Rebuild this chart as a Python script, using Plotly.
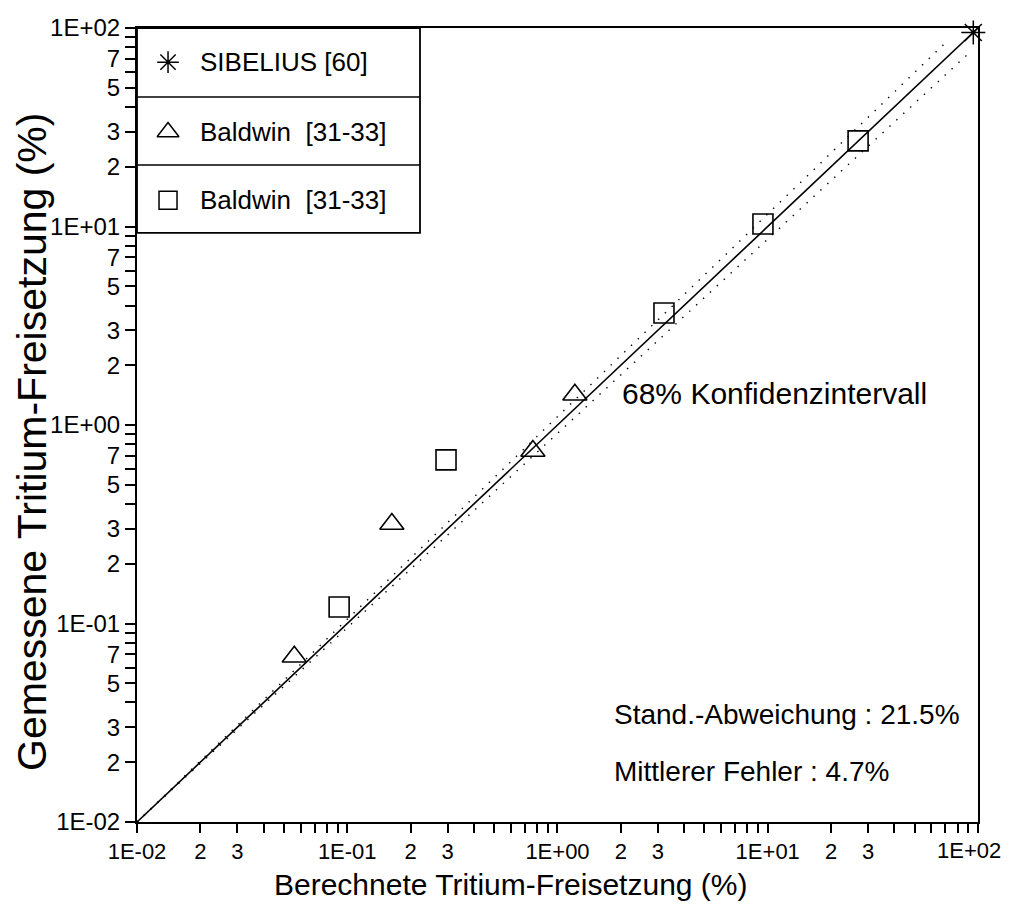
import numpy as np
import plotly.graph_objects as go

# ---- data ----
sib_x = [95.0]
sib_y = [95.0]
tri_x = [0.056, 0.163, 0.764, 1.21]
tri_y = [0.068, 0.317, 0.74, 1.42]
sq_x = [0.0915, 0.295, 3.21, 9.49, 26.9]
sq_y = [0.121, 0.667, 3.67, 10.3, 27.0]
diag_x = [0.01, 100.0]
diag_y = [0.01, 100.0]
band_up_x = [0.01, 71.0]
band_up_y = [0.01, 85.5]
band_lo_x = [0.01, 93.0]
band_lo_y = [0.01, 76.7]

legend_labels = ["SIBELIUS [60]", "Baldwin  [31-33]", "Baldwin  [31-33]"]
x_title = "Berechnete Tritium-Freisetzung (%)"
y_title = "Gemessene Tritium-Freisetzung (%)"
note_ci = "68% Konfidenzintervall"
note_sd = "Stand.-Abweichung : 21.5%"
note_mf = "Mittlerer Fehler : 4.7%"

decades = [0.01, 0.1, 1, 10, 100]
dec_labels = ["1E-02", "1E-01", "1E+00", "1E+01", "1E+02"]

FONT = "Liberation Sans, Arial, sans-serif"

def make_ticks(labeled_digits, last_label=True):
    vals, texts = [], []
    for d, lab in zip(decades, dec_labels):
        vals.append(d)
        texts.append(lab if (d != 100 or last_label) else "")
        if d == 100:
            break
        for k in range(2, 10):
            vals.append(d * k)
            texts.append(str(k) if k in labeled_digits else "")
    return vals, texts

xtv, xtt = make_ticks([2, 3], last_label=False)
ytv, ytt = make_ticks([2, 3, 5, 7])

fig = go.Figure()
black = "black"

fig.add_trace(go.Scatter(x=diag_x, y=diag_y, mode="lines",
                         line=dict(color=black, width=1.6), showlegend=False))
fig.add_trace(go.Scatter(x=band_up_x, y=band_up_y, mode="lines",
                         line=dict(color=black, width=1.4, dash="1.4px,8px"), showlegend=False))
fig.add_trace(go.Scatter(x=band_lo_x, y=band_lo_y, mode="lines",
                         line=dict(color=black, width=1.4, dash="1.4px,8px"), showlegend=False))
fig.add_trace(go.Scatter(x=tri_x, y=tri_y, mode="markers",
                         marker=dict(symbol="triangle-up-open", size=21, color=black,
                                     line=dict(width=1.6, color=black)), showlegend=False))
fig.add_trace(go.Scatter(x=sq_x, y=sq_y, mode="markers",
                         marker=dict(symbol="square-open", size=20, color=black,
                                     line=dict(width=1.6, color=black)), showlegend=False))
fig.add_trace(go.Scatter(x=sib_x, y=sib_y, mode="markers", cliponaxis=False,
                         marker=dict(symbol="asterisk-open", size=20, color=black,
                                     line=dict(width=1.5, color=black)), showlegend=False))

# legend glyphs on an overlay paper-like axis
leg_y = [0.957, 0.869, 0.783]
leg_syms = ["asterisk-open", "triangle-up-open", "square-open"]
leg_sizes = [18, 19, 18]
for yy, sym, sz in zip(leg_y, leg_syms, leg_sizes):
    fig.add_trace(go.Scatter(x=[0.0369], y=[yy], mode="markers", xaxis="x2", yaxis="y2",
                             marker=dict(symbol=sym, size=sz, color=black,
                                         line=dict(width=1.5, color=black)),
                             showlegend=False, hoverinfo="skip"))

annotations = []
for yy, lab in zip(leg_y, legend_labels):
    annotations.append(dict(x=0.0725, y=yy, xref="paper", yref="paper", text=lab,
                            showarrow=False, xanchor="left", yanchor="middle",
                            font=dict(family=FONT, size=26, color=black)))
for txt, xx, yy, fs in [(note_ci, 0.574, 0.540, 30), (note_sd, 0.565, 0.135, 28),
                        (note_mf, 0.565, 0.063, 28)]:
    annotations.append(dict(x=xx, y=yy, xref="paper", yref="paper", text=txt,
                            showarrow=False, xanchor="left", yanchor="middle",
                            font=dict(family=FONT, size=fs, color=black)))
# last x tick label, kept inside the page
annotations.append(dict(x=(1003 - 137) / 841, y=-(851 - 822) / 794, xref="paper", yref="paper",
                        text=dec_labels[-1], showarrow=False, xanchor="right", yanchor="middle",
                        font=dict(family=FONT, size=22, color=black)))
# axis titles
annotations.append(dict(x=(511 - 137) / 841, y=-(884 - 822) / 794, xref="paper", yref="paper",
                        text=x_title, showarrow=False, xanchor="center", yanchor="middle",
                        font=dict(family=FONT, size=30, color=black)))
annotations.append(dict(x=-(137 - 32) / 841, y=1 - (442 - 28) / 794, xref="paper", yref="paper",
                        text=y_title, showarrow=False, xanchor="center", yanchor="middle",
                        textangle=-90, font=dict(family=FONT, size=41, color=black)))

shapes = [
    dict(type="rect", xref="paper", yref="paper", x0=0, x1=0.3365, y0=0.742, y1=1,
         line=dict(color=black, width=1.8)),
    dict(type="line", xref="paper", yref="paper", x0=0, x1=0.3365, y0=0.913, y1=0.913,
         line=dict(color=black, width=1.5)),
    dict(type="line", xref="paper", yref="paper", x0=0, x1=0.3365, y0=0.8275, y1=0.8275,
         line=dict(color=black, width=1.5)),
]

axis_common = dict(type="log", showgrid=False, zeroline=False, showline=True, linecolor=black,
                   linewidth=2, mirror=True, ticks="outside", tickcolor=black, tickwidth=1.5,
                   automargin=False, ticklabeloverflow="allow")

fig.update_layout(
    width=997, height=895,
    margin=dict(l=129, r=27, t=20, b=81),
    paper_bgcolor="white", plot_bgcolor="white",
    xaxis=dict(axis_common, range=[-2, 2.0001], tickvals=xtv, ticktext=xtt, ticklen=9,
               tickfont=dict(family=FONT, size=22, color=black)),
    yaxis=dict(axis_common, range=[-2, 2.0001], tickvals=ytv, ticktext=ytt, ticklen=10,
               tickfont=dict(family=FONT, size=24, color=black)),
    xaxis2=dict(overlaying="x", range=[0, 1], visible=False, fixedrange=True),
    yaxis2=dict(overlaying="y", range=[0, 1], visible=False, fixedrange=True),
    annotations=annotations,
    shapes=shapes,
    showlegend=False,
)

fig.write_html("out.html")
